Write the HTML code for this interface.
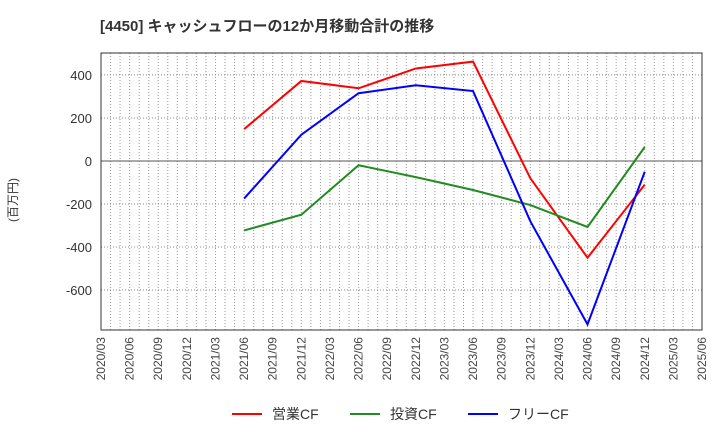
<!DOCTYPE html>
<html><head><meta charset="utf-8"><style>
body{margin:0;background:#fff;font-family:"Liberation Sans","Noto Sans CJK JP",sans-serif;}
svg text{font-family:"Liberation Sans","Noto Sans CJK JP",sans-serif;}
</style></head><body>
<svg id="c" width="720" height="440">
<text x="100" y="31" font-size="15" font-weight="bold" fill="#333">[4450]  キャッシュフローの12か月移動合計の推移</text>
<text transform="translate(17,200) rotate(-90)" font-size="12" fill="#333" text-anchor="middle">(百万円)</text>
<g id="grid"></g><g id="lines"></g><g id="axes"></g>
<g>
<line x1="232" y1="414" x2="262" y2="414" stroke="#f00" stroke-width="2"/><text x="272" y="419" font-size="14" fill="#333">営業CF</text>
<line x1="350" y1="414" x2="380" y2="414" stroke="#228b22" stroke-width="2"/><text x="390" y="419" font-size="14" fill="#333">投資CF</text>
<line x1="468" y1="414" x2="498" y2="414" stroke="#00f" stroke-width="2"/><text x="508" y="419" font-size="14" fill="#333">フリーCF</text>
</g>
</svg>
<script>
const xLabels=["2020/03","2020/06","2020/09","2020/12","2021/03","2021/06","2021/09","2021/12","2022/03","2022/06","2022/09","2022/12","2023/03","2023/06","2023/09","2023/12","2024/03","2024/06","2024/09","2024/12","2025/03","2025/06"];
const yTicks=[400,200,0,-200,-400,-600];
const periods=["2021/06","2021/12","2022/06","2022/12","2023/06","2023/12","2024/06","2024/12"];
const operatingCF=[148,372,338,430,462,-80,-450,-110];
const investingCF=[-323,-250,-20,-75,-135,-205,-307,65];
const freeCF=[-175,122,315,352,325,-280,-760,-50];
const L=101,R=702,T=53,B=330,yMax=502,yMin=-786;
const NS="http://www.w3.org/2000/svg";
const qx=i=>L+(R-L)*i/(xLabels.length-1);
const mx=m=>L+(R-L)*m/((xLabels.length-1)*3);
const xOf=lbl=>qx(xLabels.indexOf(lbl));
const y=v=>T+(yMax-v)/(yMax-yMin)*(B-T);
function mk(tag,attrs,parent){const e=document.createElementNS(NS,tag);for(const k in attrs)e.setAttribute(k,attrs[k]);parent.appendChild(e);return e;}
const grid=document.getElementById('grid'),axes=document.getElementById('axes'),lines=document.getElementById('lines');
for(let m=1;m<(xLabels.length-1)*3;m++){const g=mk('line',{x1:mx(m),x2:mx(m),y1:T,y2:B,stroke:'#999','stroke-width':1,'stroke-dasharray':'1,2'},grid);

}
yTicks.forEach(v=>{const g=mk('line',{x1:L,x2:R,y1:y(v),y2:y(v),stroke:v===0?'#555':'#888','stroke-width':1,'stroke-dasharray':v===0?'none':'1,2'},grid);


const t=mk('text',{x:L-9,y:y(v)+5,'font-size':13,fill:'#333','text-anchor':'end'},axes);t.textContent=v;

});
xLabels.forEach((lb,i)=>{const t=mk('text',{transform:`translate(${qx(i)+4},${B+7}) rotate(-90)`,'font-size':12,fill:'#444','text-anchor':'end'},axes);t.textContent=lb;

});
const f=mk('rect',{x:L,y:T,width:R-L,height:B-T,fill:'none',stroke:'#333','stroke-width':1},axes);


[[operatingCF,'#f00','operating-cf-line'],[investingCF,'#228b22','investing-cf-line'],[freeCF,'#00f','free-cf-line']].forEach(([d,c,n])=>{
const p=mk('polyline',{points:d.map((v,i)=>xOf(periods[i])+','+y(v)).join(' '),fill:'none',stroke:c,'stroke-width':2},lines);

});
</script>
</body></html>
